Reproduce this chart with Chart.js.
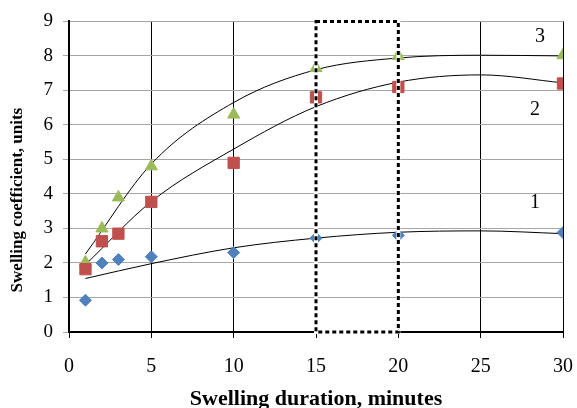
<!DOCTYPE html>
<html>
<head>
<meta charset="utf-8">
<script src="https://cdn.jsdelivr.net/npm/chart.js@4/dist/chart.umd.min.js"></script>
<style>
  html, body { margin: 0; padding: 0; background: #fff; }
  #wrap { width: 577px; height: 408px; }
</style>
</head>
<body>
<div id="wrap"><canvas id="swell"></canvas></div>
<script>
// swelling duration, minutes
const minutes = [1, 2, 3, 5, 10, 15, 20, 30];
// measured swelling coefficient for samples 1..3
const sample1 = [0.92, 2.0, 2.1, 2.18, 2.3, 2.72, 2.8, 2.88];
const sample2 = [1.82, 2.63, 2.85, 3.77, 4.9, 6.8, 7.1, 7.2];
const sample3 = [2.02, 3.0, 3.9, 4.8, 6.3, 7.65, 8.0, 8.02];
// trend curves
const trendX = [1, 5, 10, 15, 20, 25, 30];
const trend1 = [1.55, 1.98, 2.44, 2.72, 2.89, 2.93, 2.85];
const trend2 = [1.95, 3.78, 5.3, 6.53, 7.24, 7.45, 7.22];
const trend3 = [2.26, 4.87, 6.65, 7.6, 7.94, 8.02, 8.0];
const curveLabels = ['1', '2', '3'];
const labelAt = [[28.3, 3.75], [28.3, 6.45], [28.6, 8.55]];
const boxRange = [15, 20];

const serif = "'Liberation Serif', 'Times New Roman', serif";

function pts(xs, ys) {
  return xs.map((x, i) => ({ x: x, y: ys[i] }));
}

function trendSet(ys) {
  return {
    type: 'line',
    data: pts(trendX, ys),
    borderColor: '#000',
    borderWidth: 1,
    pointRadius: 0,
    fill: false,
    cubicInterpolationMode: 'monotone',
    order: 2
  };
}

const extras = {
  id: 'extras',
  afterDatasetsDraw(chart) {
    const ctx = chart.ctx;
    const xs = chart.scales.x, ys = chart.scales.y;
    const x0 = xs.getPixelForValue(boxRange[0]);
    const x1 = xs.getPixelForValue(boxRange[1]);
    const y0 = ys.getPixelForValue(9);
    const y1 = ys.getPixelForValue(0);
    ctx.save();
    ctx.lineWidth = 4;
    ctx.strokeStyle = '#fff';
    ctx.strokeRect(x0, y0, x1 - x0, y1 - y0);
    ctx.lineWidth = 3;
    ctx.strokeStyle = '#000';
    ctx.setLineDash([4, 3]);
    ctx.strokeRect(x0, y0, x1 - x0, y1 - y0);
    ctx.setLineDash([]);
    ctx.fillStyle = '#000';
    ctx.font = '20px ' + serif;
    ctx.textAlign = 'center';
    ctx.textBaseline = 'middle';
    curveLabels.forEach((t, i) => {
      ctx.fillText(t, xs.getPixelForValue(labelAt[i][0]), ys.getPixelForValue(labelAt[i][1]));
    });
    ctx.restore();
  }
};

new Chart(document.getElementById('swell'), {
  type: 'scatter',
  data: {
    datasets: [
      trendSet(trend1),
      trendSet(trend2),
      trendSet(trend3),
      {
        data: pts(minutes, sample1),
        pointStyle: 'rectRot',
        pointRadius: 6,
        backgroundColor: '#4F81BD',
        borderColor: '#4F81BD',
        order: 1
      },
      {
        data: pts(minutes, sample2),
        pointStyle: 'rect',
        pointRadius: 8,
        backgroundColor: '#C0504D',
        borderColor: '#C0504D',
        order: 1
      },
      {
        data: pts(minutes, sample3),
        pointStyle: 'triangle',
        pointRadius: 7,
        backgroundColor: '#9BBB59',
        borderColor: '#9BBB59',
        order: 1
      }
    ]
  },
  options: {
    responsive: true,
    maintainAspectRatio: false,
    animation: false,
    layout: { padding: { left: 7, right: 14, top: 18, bottom: 0 } },
    plugins: { legend: { display: false }, tooltip: { enabled: false } },
    scales: {
      x: {
        type: 'linear',
        min: 0,
        max: 30,
        afterFit(s) { s.height = 76; s.paddingLeft = 0; s.paddingRight = 0; },
        ticks: { stepSize: 5, color: '#000', padding: 17, font: { family: serif, size: 20 } },
        grid: { color: '#000', lineWidth: 1, tickLength: 6 },
        border: { color: '#000', width: 2 },
        title: {
          display: true,
          text: 'Swelling duration, minutes',
          color: '#000',
          font: { family: serif, size: 22, weight: 'bold', lineHeight: 0.75 },
          padding: 0
        }
      },
      y: {
        min: 0,
        max: 9,
        afterFit(s) { s.width = 62; },
        ticks: { stepSize: 1, color: '#000', padding: 10, font: { family: serif, size: 19 } },
        grid: { color: '#a6a6a6', lineWidth: 1, tickLength: 6 },
        border: { color: '#000', width: 2 },
        title: {
          display: true,
          text: 'Swelling coefficient, units           ',
          color: '#000',
          font: { family: serif, size: 17, weight: 'bold' },
          padding: 0
        }
      }
    }
  },
  plugins: [extras]
});
</script>
</body>
</html>
